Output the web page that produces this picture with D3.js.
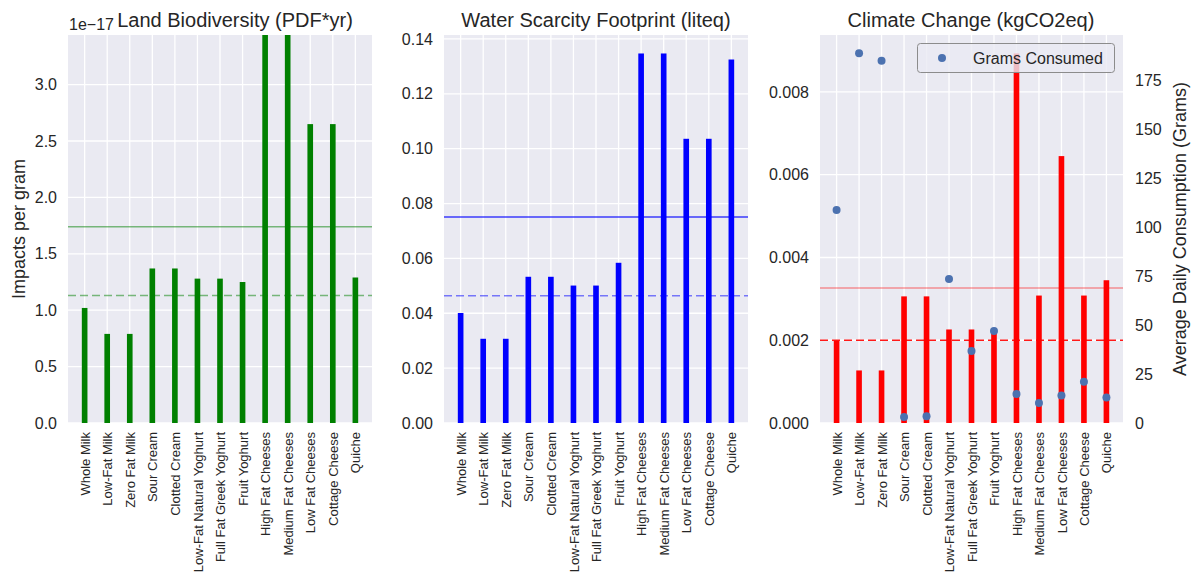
<!DOCTYPE html>
<html>
<head>
<meta charset="utf-8">
<script src="https://cdn.jsdelivr.net/npm/d3@7"></script>
<style>
  html, body { margin: 0; padding: 0; background: #ffffff; }
  svg { display: block; font-family: "Liberation Sans", Arial, sans-serif; }
</style>
</head>
<body>
<svg id="chart" width="1197" height="584"></svg>
<script>
// Food categories shared by the three impact panels
const categories = [
  "Whole Milk", "Low-Fat Milk", "Zero Fat Milk", "Sour Cream", "Clotted Cream",
  "Low-Fat Natural Yoghurt", "Full Fat Greek Yoghurt", "Fruit Yoghurt",
  "High Fat Cheeses", "Medium Fat Cheeses", "Low Fat Cheeses", "Cottage Cheese", "Quiche"
];

// Land biodiversity per gram, in units of 1e-17 PDF*yr
const landExponent = -17;
const landValues = [1.02, 0.79, 0.79, 1.37, 1.37, 1.28, 1.28, 1.25, 3.44, 3.44, 2.65, 2.65, 1.29];
const landReference = 1.13;
const landTicks = [0, 0.5, 1.0, 1.5, 2.0, 2.5, 3.0];

// Water scarcity footprint per gram (liteq)
const waterValues = [0.0401, 0.0307, 0.0307, 0.0533, 0.0533, 0.0501, 0.0501, 0.0584, 0.1347, 0.1347, 0.1036, 0.1036, 0.1325];
const waterReference = 0.0464;
const waterTicks = [0, 0.02, 0.04, 0.06, 0.08, 0.10, 0.12, 0.14];

// Climate change per gram (kgCO2eq)
const climateValues = [0.00199, 0.00127, 0.00127, 0.00306, 0.00306, 0.00226, 0.00226, 0.00228, 0.00893, 0.00308, 0.00645, 0.00308, 0.00345];
const climateReference = 0.0020;
const climateTicks = [0, 0.002, 0.004, 0.006, 0.008];

// Average daily consumption (grams)
const gramsConsumed = [108.8, 188.8, 185.0, 3.0, 3.5, 73.5, 36.7, 47.0, 14.8, 10.2, 14.0, 21.0, 13.0];
const gramsTicks = [0, 25, 50, 75, 100, 125, 150, 175];

const svg = d3.select("#chart");
const TEXT = "#262626";
const BG = "#EAEAF2";
const plotTop = 35, plotBottom = 423;
const barWidth = 0.25;

function panel(opts) {
  const g = svg.append("g");
  const n = categories.length;
  const pad = 0.05 * (n - 1 + barWidth);
  const x = d3.scaleLinear()
    .domain([-barWidth / 2 - pad, n - 1 + barWidth / 2 + pad])
    .range([opts.left, opts.right]);
  const y = d3.scaleLinear().domain([0, opts.yMax]).range([plotBottom, plotTop]);

  // plot background
  g.append("rect")
    .attr("x", opts.left).attr("y", plotTop)
    .attr("width", opts.right - opts.left).attr("height", plotBottom - plotTop)
    .attr("fill", BG);

  const clipId = "clip-" + opts.id;
  svg.append("clipPath").attr("id", clipId)
    .append("rect")
    .attr("x", opts.left).attr("y", plotTop)
    .attr("width", opts.right - opts.left).attr("height", plotBottom - plotTop);

  // grid
  const grid = g.append("g").attr("stroke", "#ffffff").attr("stroke-width", 1.3);
  grid.selectAll("line.h").data(opts.ticks).join("line")
    .attr("class", "h")
    .attr("x1", opts.left).attr("x2", opts.right)
    .attr("y1", d => y(d)).attr("y2", d => y(d));
  grid.selectAll("line.v").data(d3.range(n)).join("line")
    .attr("class", "v")
    .attr("x1", d => x(d)).attr("x2", d => x(d))
    .attr("y1", plotTop).attr("y2", plotBottom);

  // bars
  const plot = g.append("g").attr("clip-path", `url(#${clipId})`);
  const bw = x(barWidth) - x(0);
  plot.selectAll("rect.bar").data(opts.values).join("rect")
    .attr("class", "bar")
    .attr("x", (d, i) => x(i) - bw / 2)
    .attr("y", d => y(d))
    .attr("width", bw)
    .attr("height", d => plotBottom - y(d))
    .attr("fill", opts.color);

  // mean and reference lines
  const meanValue = d3.mean(opts.values);
  plot.append("line")
    .attr("x1", opts.left).attr("x2", opts.right)
    .attr("y1", y(meanValue)).attr("y2", y(meanValue))
    .attr("stroke", opts.color).attr("stroke-opacity", opts.meanOpacity)
    .attr("stroke-width", 1.5);
  plot.append("line")
    .attr("x1", opts.left).attr("x2", opts.right)
    .attr("y1", y(opts.reference)).attr("y2", y(opts.reference))
    .attr("stroke", opts.color).attr("stroke-opacity", opts.refOpacity)
    .attr("stroke-width", 1.5).attr("stroke-dasharray", "8,4");

  // y axis labels
  const yAxis = d3.axisLeft(y).tickValues(opts.ticks).tickFormat(opts.format).tickSize(0).tickPadding(11);
  const ya = g.append("g").attr("transform", `translate(${opts.left},0)`).call(yAxis);
  ya.select(".domain").remove();
  ya.selectAll("text").attr("fill", TEXT).style("font-size", "16px")
    .style("font-family", "'Liberation Sans', Arial, sans-serif");

  // x axis labels
  const xAxis = d3.axisBottom(x).tickValues(d3.range(n)).tickFormat(i => categories[i]).tickSize(0).tickPadding(0);
  const xa = g.append("g").attr("transform", `translate(0,${plotBottom})`).call(xAxis);
  xa.select(".domain").remove();
  xa.selectAll("text")
    .attr("fill", TEXT).style("font-size", "13px")
    .style("font-family", "'Liberation Sans', Arial, sans-serif")
    .attr("text-anchor", "end")
    .attr("transform", "rotate(-90)")
    .attr("x", -9).attr("y", 0).attr("dy", "0.35em");

  // title
  svg.append("text")
    .attr("x", opts.titleX).attr("y", 27)
    .attr("text-anchor", "middle").attr("fill", TEXT)
    .style("font-size", "20px")
    .text(opts.title);

  return { x, y, g };
}

// Land biodiversity
panel({
  id: "land", left: 68, right: 372, yMax: 3.44,
  values: landValues, reference: landReference, ticks: landTicks,
  format: d3.format(".1f"), color: "#008000", meanOpacity: 0.5, refOpacity: 0.5,
  title: "Land Biodiversity (PDF*yr)", titleX: 235
});
svg.append("text").attr("x", 69).attr("y", 30).attr("fill", TEXT)
  .style("font-size", "16px").text("1e\u2212" + Math.abs(landExponent));
svg.append("text")
  .attr("transform", `translate(19,${(plotTop + plotBottom) / 2}) rotate(-90)`)
  .attr("text-anchor", "middle").attr("dy", "0.35em").attr("fill", TEXT)
  .style("font-size", "18px").text("Impacts per gram");

// Water scarcity
panel({
  id: "water", left: 444, right: 748, yMax: d3.max(waterValues) * 1.05,
  values: waterValues, reference: waterReference, ticks: waterTicks,
  format: d3.format(".2f"), color: "#0000ff", meanOpacity: 0.75, refOpacity: 0.5,
  title: "Water Scarcity Footprint (liteq)", titleX: 596
});

// Climate change with consumption on a secondary axis
const climate = panel({
  id: "climate", left: 820, right: 1123, yMax: d3.max(climateValues) * 1.05,
  values: climateValues, reference: climateReference, ticks: climateTicks,
  format: d3.format(".3f"), color: "#ff0000", meanOpacity: 0.4, refOpacity: 0.9,
  title: "Climate Change (kgCO2eq)", titleX: 971
});

const gMax = d3.max(gramsConsumed), gMin = d3.min(gramsConsumed);
const y2 = d3.scaleLinear().domain([0, gMax + 0.05 * (gMax - gMin)]).range([plotBottom, plotTop]);
const y2Axis = d3.axisRight(y2).tickValues(gramsTicks).tickFormat(d3.format("d")).tickSize(0).tickPadding(12);
const y2a = svg.append("g").attr("transform", "translate(1123,0)").call(y2Axis);
y2a.select(".domain").remove();
y2a.selectAll("text").attr("fill", TEXT).style("font-size", "16px")
  .style("font-family", "'Liberation Sans', Arial, sans-serif");

svg.append("g").selectAll("circle").data(gramsConsumed).join("circle")
  .attr("cx", (d, i) => climate.x(i))
  .attr("cy", d => y2(d))
  .attr("r", 4)
  .attr("fill", "#4C72B0");

svg.append("text")
  .attr("transform", `translate(1180,${(plotTop + plotBottom) / 2}) rotate(-90)`)
  .attr("text-anchor", "middle").attr("dy", "0.35em").attr("fill", TEXT)
  .style("font-size", "18px").text("Average Daily Consumption (Grams)");

// legend
const legend = svg.append("g");
legend.append("rect")
  .attr("x", 917.5).attr("y", 43.5).attr("width", 197).attr("height", 29)
  .attr("rx", 3).attr("fill", BG).attr("fill-opacity", 0.8)
  .attr("stroke", "#8c8c8c").attr("stroke-width", 1);
legend.append("circle").attr("cx", 942).attr("cy", 58).attr("r", 4).attr("fill", "#4C72B0");
legend.append("text").attr("x", 973).attr("y", 58).attr("dy", "0.35em")
  .attr("fill", TEXT).style("font-size", "16px").text("Grams Consumed");
</script>
</body>
</html>
